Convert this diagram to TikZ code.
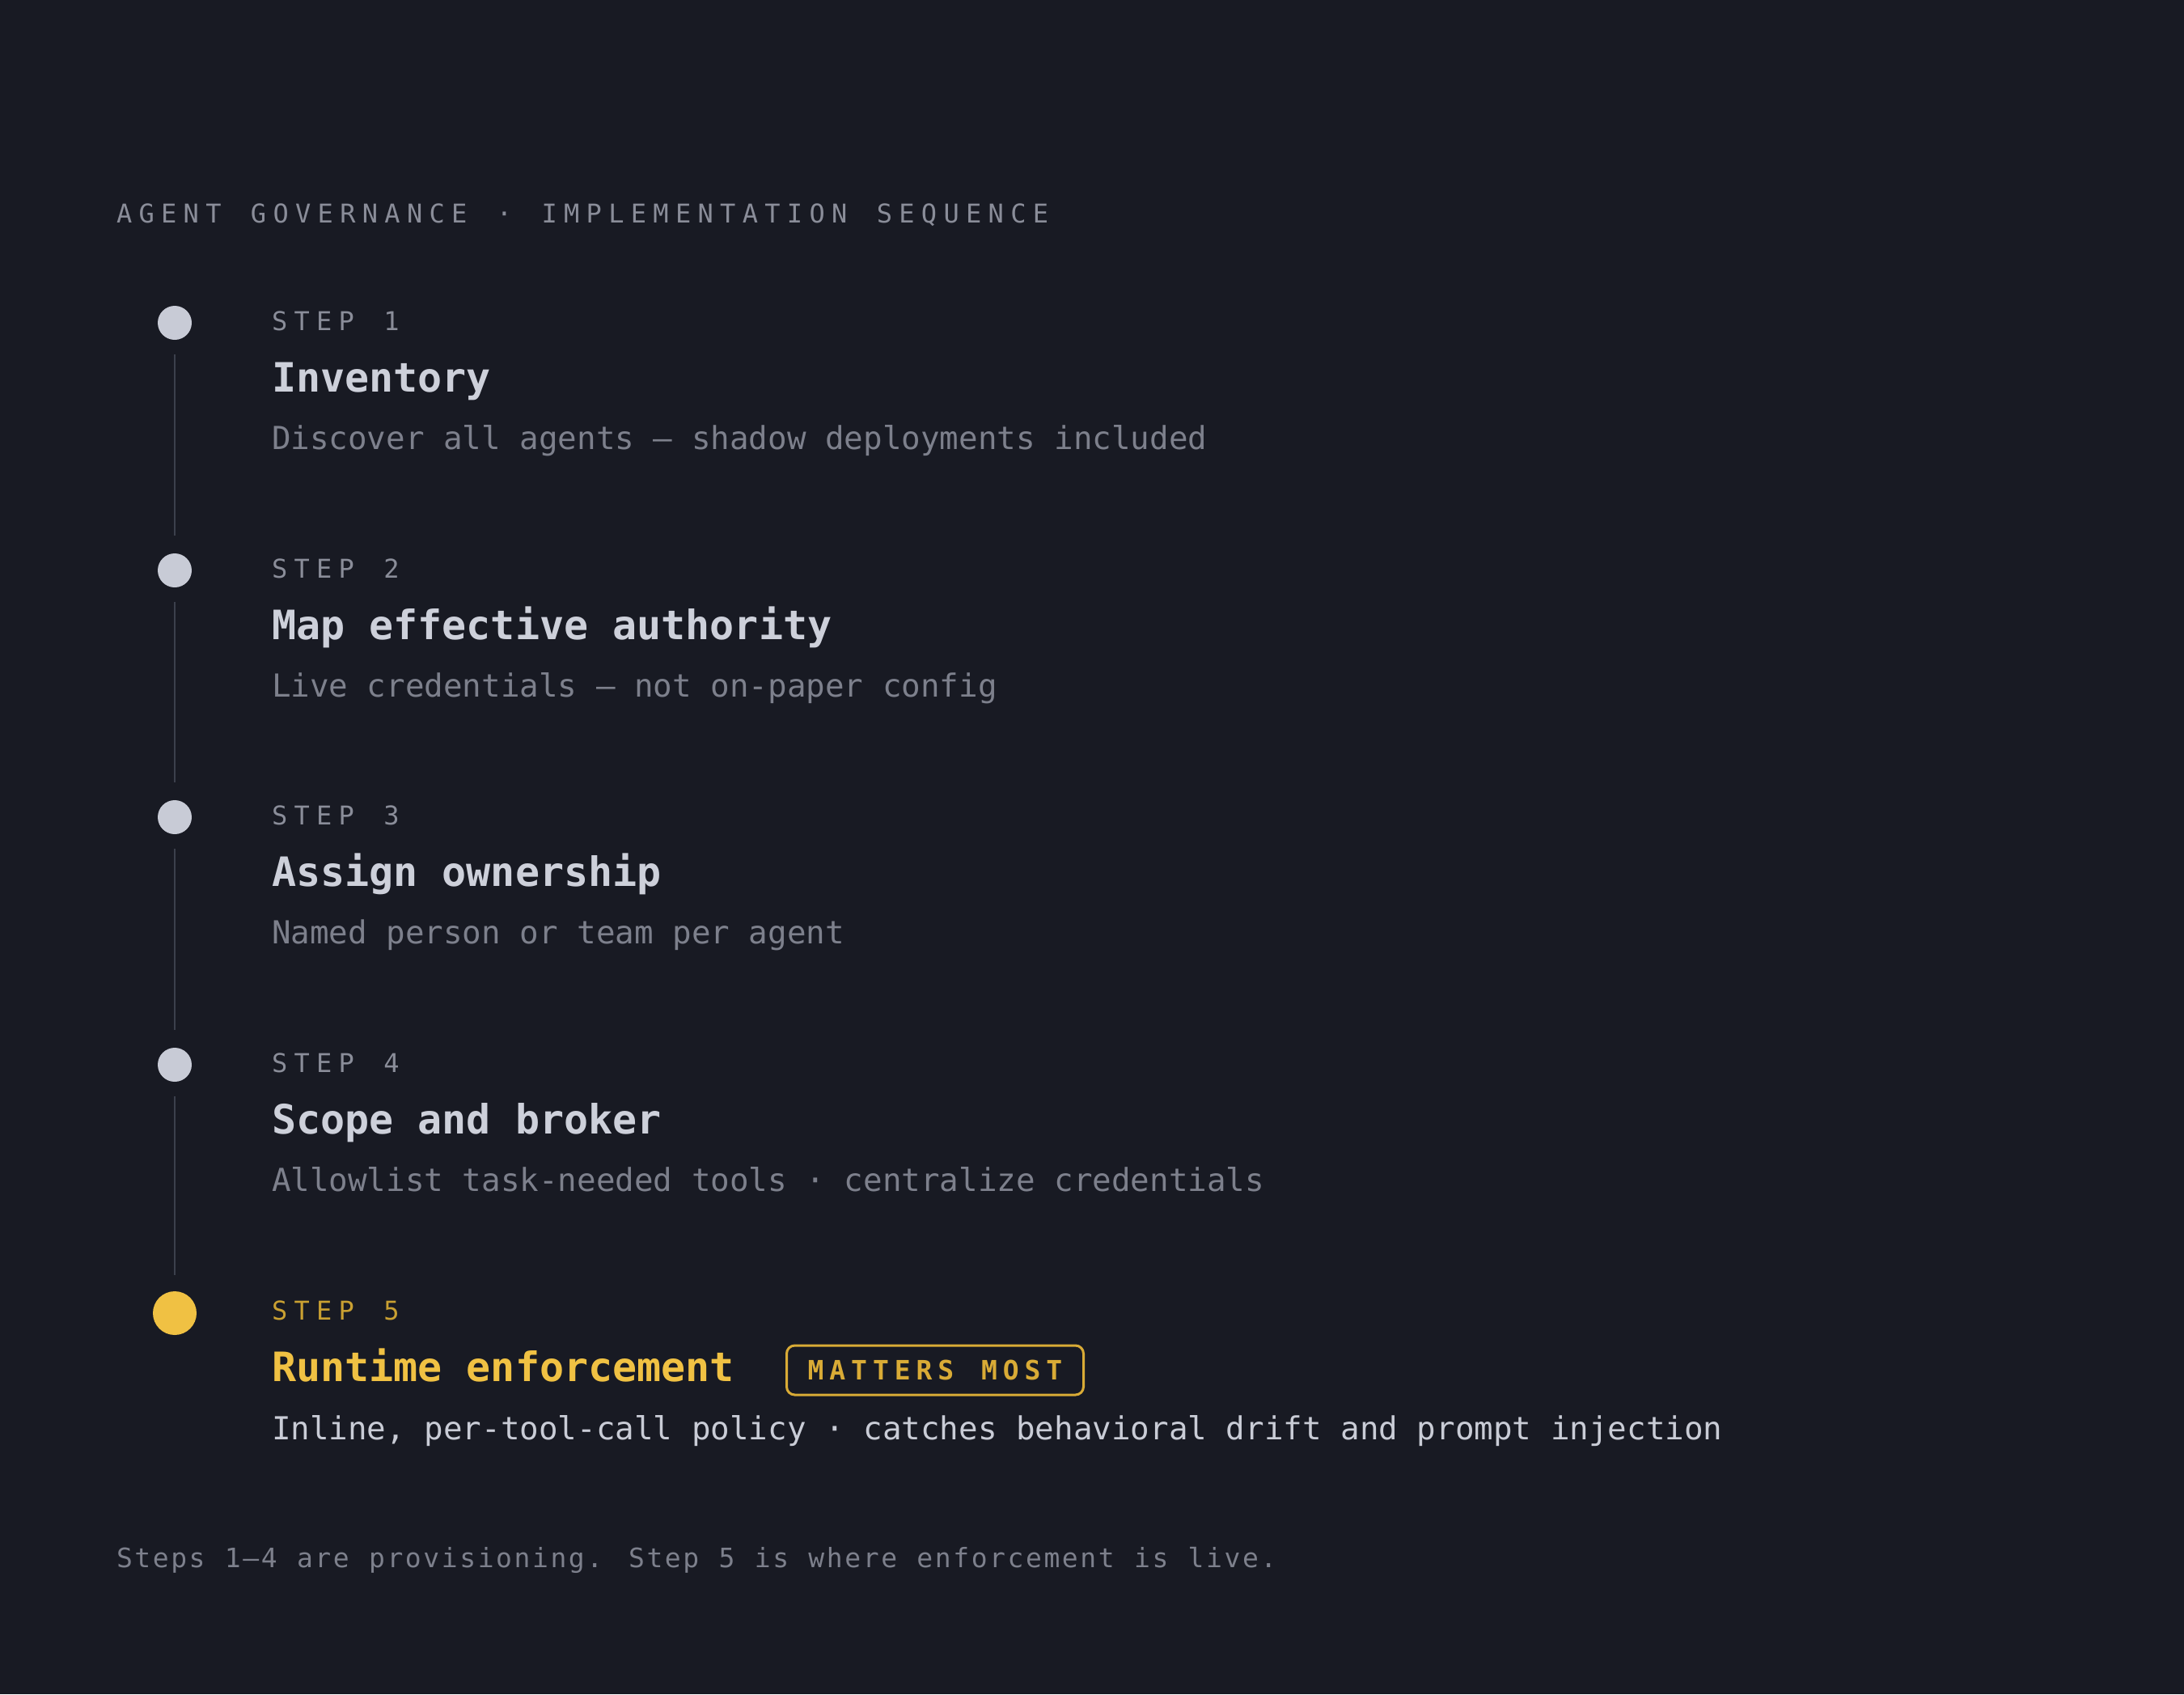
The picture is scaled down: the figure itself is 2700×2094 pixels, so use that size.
\documentclass[tikz,border=0pt]{standalone}
\usepackage{fontspec}
\setmainfont{DejaVu Sans Mono}
\newfontfamily\hdrfont[LetterSpace=26]{DejaVu Sans Mono}
\newfontfamily\badgefont[LetterSpace=21]{DejaVu Sans Mono}
\newfontfamily\plainfont{DejaVu Sans Mono}
\newfontfamily\footfont[LetterSpace=7.8]{DejaVu Sans Mono}
\newcommand\hsp{\hspace{8.8pt}}
\newcommand\bsp{\hspace{7pt}}
\newcommand\fsp{\hspace{1.9pt}}
\definecolor{bg}{HTML}{181A23}
\definecolor{dotgray}{HTML}{C8CBD6}
\definecolor{lblgray}{HTML}{8A8D99}
\definecolor{ttlgray}{HTML}{CDD0DA}
\definecolor{dscgray}{HTML}{7D808C}
\definecolor{linegray}{HTML}{3C404C}
\definecolor{gold}{HTML}{F0C143}
\definecolor{golddark}{HTML}{C9A032}
\definecolor{badgegold}{HTML}{D9AB36}
\definecolor{lightdsc}{HTML}{C9CCD6}
\tikzset{
  txt/.style={anchor=base west, inner sep=0pt, outer sep=0pt},
  hdr/.style={txt, text=lblgray, font=\hdrfont\fontsize{32}{38}\selectfont},
  lbl/.style={txt, text=lblgray, font=\hdrfont\fontsize{32}{38}\selectfont},
  ttl/.style={txt, text=ttlgray, font=\plainfont\bfseries\fontsize{50}{60}\selectfont},
  dsc/.style={txt, text=dscgray, font=\plainfont\fontsize{39.2}{46}\selectfont},
  dotn/.style={circle, fill=dotgray, draw=none, minimum size=42pt, inner sep=0pt},
  dotgold/.style={circle, fill=gold, draw=none, minimum size=54pt, inner sep=0pt},
  conn/.style={draw=linegray, line width=2.5pt},
  badge/.style={draw=badgegold, line width=3pt, rounded corners=10pt, text=badgegold,
    font=\badgefont\bfseries\fontsize{33}{40}\selectfont, minimum width=367pt, minimum height=61pt,
    inner sep=0pt, anchor=west},
  foot/.style={txt, text=dscgray, font=\footfont\fontsize{33}{40}\selectfont}
}
\begin{document}
\begin{tikzpicture}[x=1pt,y=-1pt]
\fill[bg] (0,0) rectangle (2700,2094);
\useasboundingbox (0,0) rectangle (2700,2094);
\node[hdr] (header) at (144,275) {AGENT \hsp GOVERNANCE \hsp · \hsp IMPLEMENTATION \hsp SEQUENCE};
% step 1
\node[dotn] (d1) at (216,399) {};
\node[lbl] (l1) at (336,408) {STEP \hsp 1};
\node[ttl] (t1) at (336,484) {Inventory};
\node[dsc] (s1) at (336,555) {Discover all agents — shadow deployments included};
% step 2
\node[dotn] (d2) at (216,705) {};
\node[lbl] (l2) at (336,714) {STEP \hsp 2};
\node[ttl] (t2) at (336,790) {Map effective authority};
\node[dsc] (s2) at (336,861) {Live credentials — not on-paper config};
% step 3
\node[dotn] (d3) at (216,1010) {};
\node[lbl] (l3) at (336,1019) {STEP \hsp 3};
\node[ttl] (t3) at (336,1095) {Assign ownership};
\node[dsc] (s3) at (336,1166) {Named person or team per agent};
% step 4
\node[dotn] (d4) at (216,1316) {};
\node[lbl] (l4) at (336,1325) {STEP \hsp 4};
\node[ttl] (t4) at (336,1401) {Scope and broker};
\node[dsc] (s4) at (336,1472) {Allowlist task-needed tools · centralize credentials};
% step 5
\node[dotgold] (d5) at (216,1623) {};
\node[lbl, text=golddark] (l5) at (336,1631) {STEP \hsp 5};
\node[ttl, text=gold] (t5) at (336,1707) {Runtime enforcement};
\node[badge] (b5) at (971,1693.5) {MATTERS \bsp MOST};
\node[dsc, text=lightdsc] (s5) at (336,1779) {Inline, per-tool-call policy · catches behavioral drift and prompt injection};
% connectors
\draw[conn] ([yshift=-18pt]d1.south) -- ([yshift=22pt]d2.north);
\draw[conn] ([yshift=-18pt]d2.south) -- ([yshift=22pt]d3.north);
\draw[conn] ([yshift=-18pt]d3.south) -- ([yshift=22pt]d4.north);
\draw[conn] ([yshift=-18pt]d4.south) -- ([yshift=20pt]d5.north);
% footer
\node[foot] (footer) at (144,1937) {Steps \fsp 1–4 \fsp are \fsp provisioning. \fsp Step \fsp 5 \fsp is \fsp where \fsp enforcement \fsp is \fsp live.};
\end{tikzpicture}
\end{document}
